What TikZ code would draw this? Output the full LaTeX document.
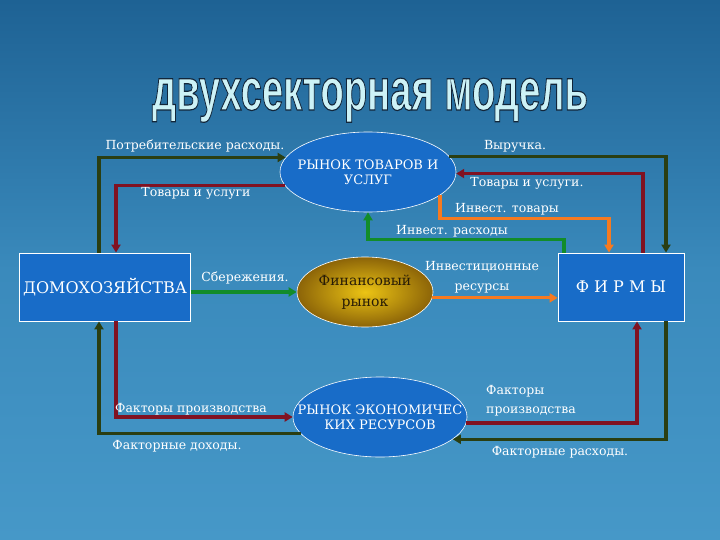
\documentclass[tikz,border=0pt]{standalone}
\usepackage{fontspec}
\setmainfont{DejaVu Serif}
\newfontfamily\titlefont[BoldFeatures={FakeBold=2}]{Liberation Sans}
\usetikzlibrary{arrows.meta,shapes.geometric,calc}

\definecolor{bgtop}{RGB}{30,98,148}
\definecolor{bgmid}{RGB}{58,138,188}
\definecolor{bgbottom}{RGB}{70,152,200}
\definecolor{boxblue}{RGB}{24,108,200}
\definecolor{olivedark}{RGB}{42,62,18}
\definecolor{reddark}{RGB}{128,18,34}
\definecolor{orangeln}{RGB}{246,122,32}
\definecolor{greenln}{RGB}{18,140,42}
\definecolor{titlecyan}{RGB}{205,242,246}
\definecolor{goldin}{RGB}{236,196,20}
\definecolor{goldout}{RGB}{140,100,8}
\definecolor{goldtext}{RGB}{40,28,6}

\tikzset{
  flow/.style={line width=3.2pt, -{Triangle[length=8pt,width=9pt]}},
  sector/.style={rectangle, draw=white, line width=0.8pt, fill=boxblue, text=white,
    minimum width=170pt, minimum height=68pt, font=\fontsize{16}{19}\selectfont},
  market/.style={ellipse, draw=white, line width=0.6pt, text=white, inner sep=0pt,
    inner xsep=-22pt, align=center, font=\fontsize{13}{15}\selectfont},
  lbl/.style={text=white, font=\fontsize{12.5}{14}\selectfont, inner sep=1pt},
}

% cyan fill, dark rim (fill and stroke colours pushed together)
\newcommand{\titletext}{\special{pdf:bcolor [0.804 0.949 0.965] [0.071 0.149 0.227]}%
  \resizebox{436pt}{32pt}{\titlefont\bfseries\fontsize{62}{62}\selectfont двухсекторная модель}%
  \special{pdf:ecolor}}

\begin{document}
\begin{tikzpicture}[x=1pt,y=-1pt]
  \shade[top color=bgtop, bottom color=bgbottom, middle color=bgmid] (0,0) rectangle (720,540);
  \useasboundingbox (0,0) rectangle (720,540);

  % title
  \node[anchor=base, inner sep=0pt, text=titlecyan] (title) at (370,110) {\titletext};

  % sectors and markets
  \node[sector] (hh) at (105,287) {ДОМОХОЗЯЙСТВА};
  \node[sector, minimum width=126pt] (firms) at (621,287) {Ф И Р М Ы};
  \node[market, fill=boxblue, minimum width=176pt, minimum height=80pt] (goods) at (368,172) {РЫНОК ТОВАРОВ И\\УСЛУГ};
  \node[market, shade, inner color=goldin, outer color=goldout, text=goldtext, inner xsep=0pt,
    minimum width=136pt, minimum height=70pt, font=\fontsize{14}{21}\selectfont] (fin) at (365,292) {Финансовый\\рынок};
  \node[market, fill=boxblue, minimum width=174pt, minimum height=80pt] (res) at (380,417) {РЫНОК ЭКОНОМИЧЕС\\КИХ РЕСУРСОВ};

  % upper circuit
  \draw[flow, olivedark] ([xshift=-6pt]hh.north) |- (goods.170);
  \draw[flow, reddark] (goods.189) -| ([xshift=11pt]hh.north);
  \draw[flow, olivedark] (goods.11) -| ([xshift=45pt]firms.north);
  \draw[flow, reddark] ([xshift=22pt]firms.north) |- (goods.-1);
  \draw[flow, orangeln] (goods.342) |- ($(firms.north)+(-12,-34)$) -- ([xshift=-12pt]firms.north);
  \draw[flow, greenln] ([xshift=-57pt]firms.north) -- ++(0,-13) -| (goods.south);

  % middle
  \draw[flow, greenln] ([yshift=-5pt]hh.east) -- (fin.west);
  \draw[flow, orangeln] (fin.355) -- (firms.west |- fin.355);

  % lower circuit
  \draw[flow, reddark] ([xshift=11pt]hh.south) |- (res.west);
  \draw[flow, olivedark] (res.192) -| ([xshift=-6pt]hh.south);
  \draw[flow, reddark] (res.356) -| ([xshift=16pt]firms.south);
  \draw[flow, olivedark] ([xshift=45pt]firms.south) |- (res.343);

  % labels
  \node[lbl] (lconsume) at (195,146) {Потребительские расходы.};
  \node[lbl] (lgoodsA) at (196,193) {Товары и услуги};
  \node[lbl] (lrevenue) at (515,146) {Выручка.};
  \node[lbl] (lgoodsB) at (527,183) {Товары и услуги.};
  \node[lbl] (linvgoods) at (507,209) {Инвест. товары};
  \node[lbl] (linvspend) at (452,231) {Инвест. расходы};
  \node[lbl] (lsave) at (245,278) {Сбережения.};
  \node[lbl, align=center, font=\fontsize{12.5}{20}\selectfont] (linvres) at (482,277) {Инвестиционные\\ресурсы};
  \node[lbl] (lfactA) at (191,409) {Факторы производства};
  \node[lbl] (lincome) at (177,446) {Факторные доходы.};
  \node[lbl, align=left, anchor=west, font=\fontsize{12.5}{19}\selectfont] (lfactB) at (485,401) {Факторы\\производства};
  \node[lbl] (lspend) at (560,452) {Факторные расходы.};
\end{tikzpicture}
\end{document}
